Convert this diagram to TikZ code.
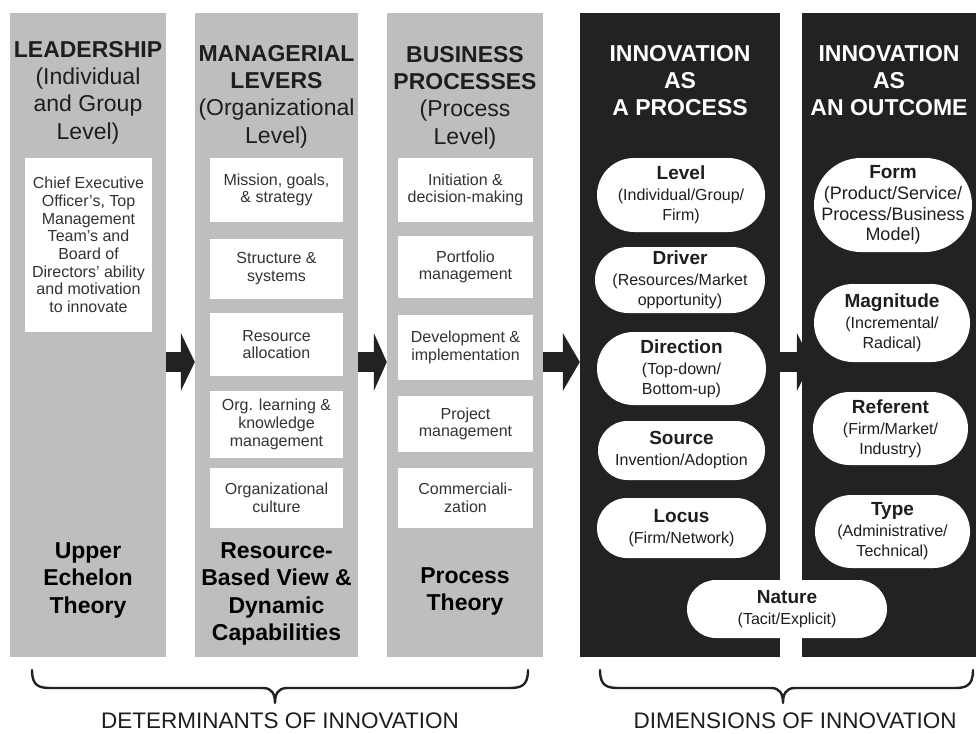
\documentclass[tikz,border=0pt]{standalone}
\usepackage{fontspec}
\setmainfont{Liberation Sans}
\usetikzlibrary{arrows.meta}
\definecolor{colgray}{HTML}{BEBEBE}
\definecolor{colblack}{HTML}{222222}
\definecolor{txt}{HTML}{1E1E1E}
\definecolor{boxtxt}{HTML}{333333}
\newcommand\pilltitle[1]{{\fontsize{19}{20}\selectfont\bfseries #1}}
\begin{document}
\begin{tikzpicture}[x=1pt,y=-1pt,
  graycol/.style={fill=colgray, draw=none, inner sep=0pt},
  blackcol/.style={fill=colblack, draw=none, inner sep=0pt},
  head/.style={align=center, inner sep=0pt, anchor=north, font=\fontsize{23}{27.3}\selectfont},
  wbox/.style={fill=white, draw=none, align=center, inner sep=0pt, text=boxtxt, font=\fontsize{16}{17.7}\selectfont},
  pill/.style 2 args={rectangle, minimum width=#1pt, minimum height=#2pt, rounded corners=0.5*#2pt,
    fill=white, draw=none, align=center, inner sep=0pt, text=txt, font=\fontsize{16}{20}\selectfont},
  theory/.style={align=center, inner sep=0pt, anchor=north, text=black, font=\fontsize{23}{27.5}\selectfont\bfseries},
  bigarrow/.style={draw=colblack, line width=20pt, -{Triangle[length=#1,width=58pt,line width=0pt]}},
  brace/.style={draw=colblack, line width=2.4pt, line cap=round, line join=round},
  foot/.style={inner sep=0pt, text=txt, font=\fontsize{22.5}{27}\selectfont},
]
\fill[white] (0,0) rectangle (976,733);
\useasboundingbox (0,0) rectangle (976,733);

% columns
\node[graycol, minimum width=156pt, minimum height=644pt] (c1) at (88,335) {};
\node[graycol, minimum width=163pt, minimum height=644pt] (c2) at (276.5,335) {};
\node[graycol, minimum width=156pt, minimum height=644pt] (c3) at (465,335) {};
\node[blackcol, minimum width=200pt, minimum height=644pt] (c4) at (680,335) {};
\node[blackcol, minimum width=174pt, minimum height=644pt] (c5) at (889,335) {};

% headers
\node[head, text=txt] (h1) at (88,41) {\textbf{LEADERSHIP}\\(Individual\\and Group\\Level)};
\node[head, text=txt] (h2) at (276.5,45) {\textbf{MANAGERIAL}\\\textbf{LEVERS}\\(Organizational\\Level)};
\node[head, text=txt] (h3) at (465,46) {\textbf{BUSINESS}\\\textbf{PROCESSES}\\(Process\\Level)};
\node[head, text=white, font=\fontsize{23}{27.3}\selectfont\bfseries] (h4) at (680,45) {INNOVATION\\AS\\A PROCESS};
\node[head, text=white, font=\fontsize{23}{27.3}\selectfont\bfseries] (h5) at (889,45) {INNOVATION\\AS\\AN OUTCOME};

% white boxes
\node[wbox, minimum width=127pt, minimum height=174pt] (ceo) at (88.5,245) {Chief Executive\\Officer’s, Top\\Management\\Team’s and\\Board of\\Directors’ ability\\and motivation\\to innovate};

\node[wbox, minimum width=133pt, minimum height=64pt] (m1) at (276.5,190) {Mission, goals,\\\& strategy};
\node[wbox, minimum width=133pt, minimum height=60pt] (m2) at (276.5,268.5) {Structure \&\\systems};
\node[wbox, minimum width=133pt, minimum height=63pt] (m3) at (276.5,344.5) {Resource\\allocation};
\node[wbox, minimum width=133pt, minimum height=67pt] (m4) at (276.5,424.5) {Org. learning \&\\knowledge\\management};
\node[wbox, minimum width=133pt, minimum height=60pt] (m5) at (276.5,498) {Organizational\\culture};

\node[wbox, minimum width=135pt, minimum height=64pt] (p1) at (465.5,190) {Initiation \&\\decision-making};
\node[wbox, minimum width=135pt, minimum height=62pt] (p2) at (465.5,267) {Portfolio\\management};
\node[wbox, minimum width=135pt, minimum height=65pt] (p3) at (465.5,347.5) {Development \&\\implementation};
\node[wbox, minimum width=135pt, minimum height=56pt] (p4) at (465.5,424) {Project\\management};
\node[wbox, minimum width=135pt, minimum height=60pt] (p5) at (465.5,498) {Commerciali-\\zation};

% theory labels
\node[theory] (t1) at (88,542) {Upper\\Echelon\\Theory};
\node[theory] (t2) at (276.5,542) {Resource-\\Based View \&\\Dynamic\\Capabilities};
\node[theory] (t3) at (465,567) {Process\\Theory};

% arrows
\draw[bigarrow=14pt] (c1.east |- 0,362) -- (c2.west |- 0,362);
\draw[bigarrow=13pt] (c2.east |- 0,362) -- (c3.west |- 0,362);
\draw[bigarrow=17pt] (c3.east |- 0,362) -- (c4.west |- 0,362);
\coordinate (a4end) at ([xshift=10pt]c5.west |- 0,362);
\draw[bigarrow=15pt] (c4.east |- 0,362) -- (a4end);

% process pills
\node[pill={168}{74}] (level) at (681,195) {\pilltitle{Level}\\[1pt](Individual/Group/\\Firm)};
\node[pill={170}{66}] (driver) at (680,280) {\pilltitle{Driver}\\[1pt](Resources/Market\\opportunity)};
\node[pill={169}{73}] (direction) at (681.5,368.5) {\pilltitle{Direction}\\[1pt](Top-down/\\Bottom-up)};
\node[pill={167}{59}] (source) at (681.5,450.5) {\pilltitle{Source}\\[1pt]Invention/Adoption};
\node[pill={169}{60}] (locus) at (681.5,528) {\pilltitle{Locus}\\[1pt](Firm/Network)};

% outcome pills
\node[pill={158}{94}, font=\fontsize{18}{20.5}\selectfont] (form) at (893,205) {\pilltitle{Form}\\[1pt](Product/Service/\\Process/Business\\Model)};
\node[pill={156}{78}] (magnitude) at (892,323) {\pilltitle{Magnitude}\\[1pt](Incremental/\\Radical)};
\node[pill={155}{73}] (referent) at (890.5,428.5) {\pilltitle{Referent}\\[1pt](Firm/Market/\\Industry)};
\node[pill={155}{73}] (type) at (892.5,531.5) {\pilltitle{Type}\\[1pt](Administrative/\\Technical)};

% nature pill spanning the gap
\node[pill={200}{58}] (nature) at (787,609) {\pilltitle{Nature}\\[1pt](Tacit/Explicit)};

% braces
\coordinate (lb1) at (32,670);
\coordinate (lb2) at (528,670);
\coordinate (lbt) at (275,703);
\coordinate (rb1) at (600,670);
\coordinate (rb2) at (973,670);
\coordinate (rbt) at (783,703);
\draw[brace] (lb1) .. controls (32,687) and (40,688) .. (52,688) -- (263,688)
  .. controls (272,688) and (275,694) .. (lbt)
  .. controls (275,694) and (278,688) .. (287,688) -- (508,688)
  .. controls (520,688) and (528,687) .. (lb2);
\draw[brace] (rb1) .. controls (600,687) and (608,688) .. (620,688) -- (771,688)
  .. controls (780,688) and (783,694) .. (rbt)
  .. controls (783,694) and (786,688) .. (795,688) -- (953,688)
  .. controls (965,688) and (973,687) .. (rb2);

\node[foot] (fl) at (280,721) {DETERMINANTS OF INNOVATION};
\node[foot] (fr) at (795,721) {DIMENSIONS OF INNOVATION};
\end{tikzpicture}
\end{document}
